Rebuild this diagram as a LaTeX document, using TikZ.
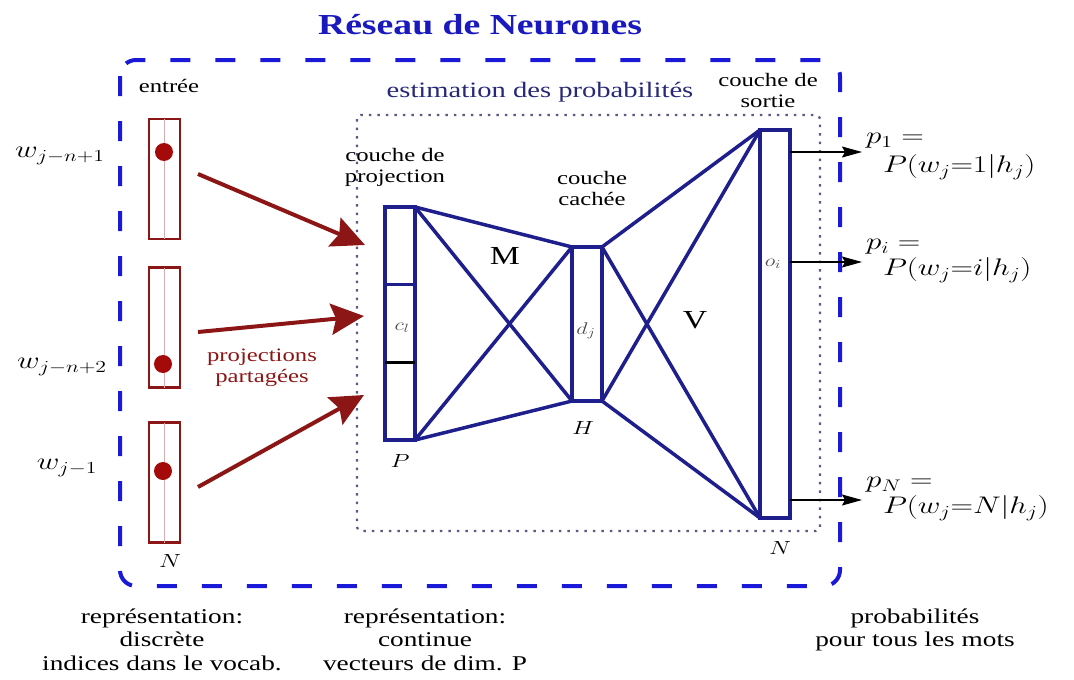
\RequirePackage{fix-cm}
\documentclass[tikz,border=0pt]{standalone}
\usepackage{fontspec}
\setmainfont{Liberation Serif}
\usepackage{graphicx}
\usetikzlibrary{arrows.meta,calc}
\definecolor{netblue}{RGB}{30,30,140}
\definecolor{boxblue}{RGB}{25,25,215}
\definecolor{titleblue}{RGB}{25,25,190}
\definecolor{estblue}{RGB}{40,40,120}
\definecolor{inred}{RGB}{140,22,22}
\definecolor{dotred}{RGB}{165,10,10}
\definecolor{dotgrey}{RGB}{90,90,130}
\newcommand{\wide}[1]{\scalebox{1.3}[1]{\begin{tabular}{@{}c@{}}#1\end{tabular}}}
\newcommand{\fs}[2]{\fontsize{#1}{#2}\selectfont}

\begin{document}
\begin{tikzpicture}[x=1pt,y=-1pt,>=Stealth,
    every node/.style={inner sep=0pt,outer sep=0pt},
    lbl/.style={font=\fs{19}{21}},
    mathlbl/.style={font=\fs{24}{28}},
    invec/.style={draw=inred,line width=2.8pt,minimum width=31pt,minimum height=120pt},
    dot/.style={circle,fill=dotred,minimum size=18pt},
    layer/.style={draw=netblue,line width=3.5pt,minimum width=30pt},
    conn/.style={netblue,line width=3.5pt,line cap=round},
    sharedarrow/.style={-{Stealth[length=33pt,width=31pt,inset=5pt]},inred,line width=4pt},
    outarrow/.style={-{Stealth[length=20pt,width=11pt,inset=3pt]},line width=1.2pt}]
	\useasboundingbox (0,0) rectangle (1074,680);
	% cadres
	\draw[boxblue,line width=4pt,dash pattern=on 20pt off 25pt,rounded corners=16pt] (120,60) rectangle (840,586);
	\draw[dotgrey,line width=2.2pt,dash pattern=on 2.5pt off 6pt,rounded corners=4pt] (357,115) rectangle (820,531);
	\node[font=\fs{29}{34}\bfseries,text=titleblue] (titre) at (480,28) {\wide{Réseau de Neurones}};
	\node[font=\fs{22}{26},text=estblue] (estim) at (540,92) {\wide{estimation des probabilités}};
	% entrees
	\node[invec] (in1) at (164.5,179) {};
	\node[invec] (in2) at (164.5,327.5) {};
	\node[invec] (in3) at (164.5,482.5) {};
	\foreach \v in {in1,in2,in3}
		\draw[inred!35,line width=0.8pt] (\v.north) -- (\v.south);
	\node[dot] (d1) at (164,152) {};
	\node[dot] (d2) at (163,364) {};
	\node[dot] (d3) at (163,471) {};
	\node[lbl] (entree) at (169,88) {\wide{entrée}};
	\node[mathlbl] (w1) at (60,152) {\wide{$w_{j-n+1}$}};
	\node[mathlbl] (w2) at (62,363) {\wide{$w_{j-n+2}$}};
	\node[mathlbl] (w3) at (67,464) {\wide{$w_{j-1}$}};
	\node[font=\fs{19}{20.5}] (nin) at (170,563) {\wide{$N$}};
	\node[font=\fs{19}{20.5},text=inred] (partage) at (262,368) {\wide{projections\\partagées}};
	% couches
	\node[layer,minimum height=233pt] (proj) at (400,323.5) {};
	\node[layer,minimum height=154pt] (hid) at (587,324) {};
	\node[layer,minimum height=388pt] (out) at (775,324) {};
	\draw[netblue,line width=2.5pt] ($(proj.north west)!1/3!(proj.south west)$) -- ($(proj.north east)!1/3!(proj.south east)$);
	\draw[black,line width=2.5pt] ($(proj.north west)!2/3!(proj.south west)$) -- ($(proj.north east)!2/3!(proj.south east)$);
	\foreach \a in {north east,south east}
		\foreach \b in {north west,south west}{
			\draw[conn] (proj.\a) -- (hid.\b);
			\draw[conn] (hid.\a) -- (out.\b);
		}
	\node[lbl] (cproj) at (395,167.5) {\wide{couche de\\projection}};
	\node[lbl] (ccach) at (592,191) {\wide{couche\\cachée}};
	\node[lbl] (csort) at (768,92.5) {\wide{couche de\\sortie}};
	\node[font=\fs{17}{20},text=black!70] (cl) at (402,326) {\wide{$c_l$}};
	\node[font=\fs{17}{20},text=black!70] (dj) at (586,330) {\wide{$d_j$}};
	\node[font=\fs{17}{20},text=black!70] (oi) at (773,262) {\wide{$o_i$}};
	\node[font=\fs{26}{30}] (M) at (505,258) {\wide{$\mathrm{M}$}};
	\node[font=\fs{26}{30}] (V) at (695,322) {\wide{$\mathrm{V}$}};
	\node[font=\fs{19}{20.5}] (P) at (400,463) {\wide{$P$}};
	\node[font=\fs{19}{20.5}] (H) at (583,430) {\wide{$H$}};
	\node[font=\fs{19}{20.5}] (nout) at (780,550) {\wide{$N$}};
	% projections partagees
	\coordinate (s1) at (198,174); \coordinate (t1) at (365,245);
	\coordinate (s2) at (198,332); \coordinate (t2) at (364,316);
	\coordinate (s3) at (198,487); \coordinate (t3) at (364,395);
	\draw[sharedarrow] (s1) -- (t1);
	\draw[sharedarrow] (s2) -- (t2);
	\draw[sharedarrow] (s3) -- (t3);
	% sorties
	\coordinate (o1) at (862,152);
	\coordinate (o2) at (862,262);
	\coordinate (o3) at (862,500);
	\draw[outarrow] (out.east |- o1) -- (o1);
	\draw[outarrow] (out.east |- o2) -- (o2);
	\draw[outarrow] (out.east |- o3) -- (o3);
	\node[mathlbl,anchor=west] (p1) at (866,138) {\wide{$p_1 =$}};
	\node[mathlbl,anchor=west] (q1) at (883,167) {\wide{$P(w_j{=}1|h_j)$}};
	\node[mathlbl,anchor=west] (p2) at (866,244) {\wide{$p_i =$}};
	\node[mathlbl,anchor=west] (q2) at (883,270) {\wide{$P(w_j{=}i|h_j)$}};
	\node[mathlbl,anchor=west] (p3) at (866,482) {\wide{$p_N =$}};
	\node[mathlbl,anchor=west] (q3) at (883,508) {\wide{$P(w_j{=}N|h_j)$}};
	% representations
	\node[font=\fs{21}{23.5},anchor=north] (rdisc) at (162,607) {\wide{représentation:\\discrète\\indices dans le vocab.}};
	\node[font=\fs{21}{23.5},anchor=north] (rcont) at (425,607) {\wide{représentation:\\continue\\vecteurs de dim. P}};
	\node[font=\fs{21}{23.5},anchor=north] (rprob) at (915,607) {\wide{probabilités\\pour tous les mots}};
\end{tikzpicture}
\end{document}
